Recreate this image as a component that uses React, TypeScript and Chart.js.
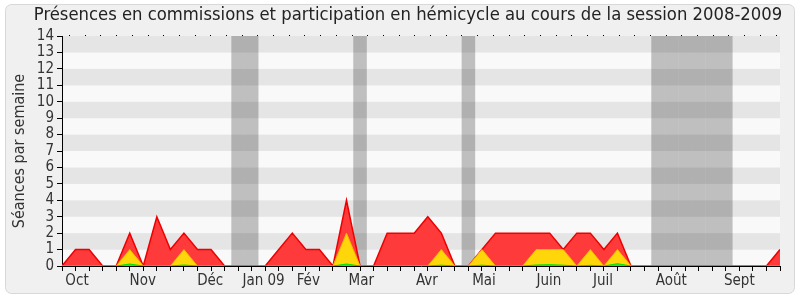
import React, { useEffect, useRef } from 'react';
import { Chart, registerables } from 'chart.js';

Chart.register(...registerables);

const TITLE = 'Présences en commissions et participation en hémicycle au cours de la session 2008-2009';
const Y_TITLE = 'Séances par semaine';

// weekly values, week index 0..53
const totalSeances = [0, 1, 1, 0, 0, 2, 0, 3, 1, 2, 1, 1, 0, 0, 0, 0, 1, 2, 1, 1, 0, 4, 0, 0, 2, 2, 2, 3, 2, 0, 0, 1, 2, 2, 2, 2, 2, 1, 2, 2, 1, 2, 0, 0, 0, 0, 0, 0, 0, 0, 0, 0, 0, 1];
const commissionSeances = [0, 0, 0, 0, 0, 1, 0, 0, 0, 1, 0, 0, 0, 0, 0, 0, 0, 0, 0, 0, 0, 2, 0, 0, 0, 0, 0, 0, 1, 0, 0, 1, 0, 0, 0, 1, 1, 1, 0, 1, 0, 1, 0, 0, 0, 0, 0, 0, 0, 0, 0, 0, 0, 0];
const hemicycleSeances = [0, 0, 0, 0, 0, 0.12, 0, 0, 0, 0.06, 0, 0, 0, 0, 0, 0, 0, 0, 0, 0, 0, 0.12, 0, 0, 0, 0, 0, 0, 0.05, 0, 0, 0.05, 0, 0, 0, 0.06, 0.08, 0.05, 0, 0.04, 0, 0.14, 0, 0, 0, 0, 0, 0, 0, 0, 0, 0, 0, 0];

const monthLabels = ['Oct', 'Nov', 'Déc', 'Jan 09', 'Fév', 'Mar', 'Avr', 'Mai', 'Juin', 'Juil', 'Août', 'Sept'];
const monthPositions = [1.11, 5.96, 10.94, 14.88, 18.18, 22.09, 26.94, 31.15, 35.94, 39.94, 44.97, 50.0];
const vacationWeeks = [13, 14, 22, 30, 44, 45, 46, 47, 48, 49];
const yTicks = [0, 1, 2, 3, 4, 5, 6, 7, 8, 9, 10, 11, 12, 13, 14];

const FONT = "'DejaVu Sans Condensed', 'DejaVu Sans', sans-serif";

const toPoints = (arr: number[]) => arr.map((v, i) => ({ x: i, y: v }));

const backgroundPlugin = {
  id: 'bgPlugin',
  beforeDraw(chart: any) {
    const { ctx, chartArea, scales } = chart;
    const x = scales.x;
    const y = scales.y;
    ctx.save();
    ctx.fillStyle = '#ffffff';
    ctx.fillRect(0, 0, chart.width, chart.height);
    // panel
    ctx.beginPath();
    if (ctx.roundRect) ctx.roundRect(5.5, 4.5, 789, 289, 6);
    else ctx.rect(5.5, 4.5, 789, 289);
    ctx.fillStyle = '#f0f0f0';
    ctx.fill();
    ctx.strokeStyle = '#d8d8d8';
    ctx.lineWidth = 1;
    ctx.stroke();
    // stripes
    for (let k = 0; k < yTicks.length - 1; k++) {
      const top = y.getPixelForValue(yTicks[k + 1]);
      const bot = y.getPixelForValue(yTicks[k]);
      ctx.fillStyle = k % 2 === 1 ? '#e5e5e5' : '#f9f9f9';
      ctx.fillRect(chartArea.left, top, chartArea.right - chartArea.left, bot - top);
    }
    // vacation bands
    ctx.globalCompositeOperation = 'multiply';
    ctx.fillStyle = '#c4c4c4';
    vacationWeeks.forEach((w) => {
      const l = x.getPixelForValue(w - 0.5);
      const r = x.getPixelForValue(w + 0.5);
      ctx.fillRect(l, chartArea.top, r - l, chartArea.bottom - chartArea.top);
    });
    ctx.globalCompositeOperation = 'source-over';
    // dotted top line
    ctx.fillStyle = '#000';
    for (let px = chartArea.left + 7; px < chartArea.right; px += 15.7) {
      ctx.fillRect(Math.round(px), chartArea.top - 1, 1, 1);
    }
    ctx.restore();
  },
  afterDraw(chart: any) {
    const { ctx } = chart;
    ctx.save();
    ctx.font = `18.3px ${FONT}`;
    ctx.fillStyle = '#222';
    ctx.textAlign = 'center';
    ctx.textBaseline = 'alphabetic';
    ctx.fillText(TITLE, 408, 20);
    ctx.restore();
  },
};

export default function App() {
  const ref = useRef<HTMLCanvasElement | null>(null);
  useEffect(() => {
    document.body.style.margin = '0';
    if (!ref.current) return;
    const chart = new Chart(ref.current, {
      type: 'line',
      data: {
        datasets: [
          {
            label: 'Hémicycle',
            data: toPoints(hemicycleSeances),
            borderColor: '#00e000',
            backgroundColor: '#33dd33',
            borderWidth: 1,
            fill: 'origin',
            pointRadius: 0,
            tension: 0,
            order: 0,
          },
          {
            label: 'Commissions',
            data: toPoints(commissionSeances),
            borderColor: '#f2b800',
            backgroundColor: '#ffd60a',
            borderWidth: 1,
            fill: 'origin',
            pointRadius: 0,
            tension: 0,
            order: 1,
          },
          {
            label: 'Total',
            data: toPoints(totalSeances),
            borderColor: '#ee0000',
            backgroundColor: '#ff3a3a',
            borderWidth: 1.5,
            fill: 'origin',
            pointRadius: 0,
            tension: 0,
            order: 2,
          },
        ],
      },
      options: {
        animation: false,
        responsive: false,
        maintainAspectRatio: false,
        layout: { padding: { top: 36, right: 20, bottom: 0, left: 0 } },
        plugins: {
          legend: { display: false },
          title: { display: false },
          tooltip: { enabled: false },
        },
        scales: {
          x: {
            type: 'linear',
            position: 'bottom',
            min: 0,
            max: 53,
            weight: 0,
            afterBuildTicks: (scale: any) => {
              scale.ticks = totalSeances.map((_, i) => ({ value: i }));
            },
            afterFit: (scale: any) => {
              scale.height = 5;
            },
            ticks: { display: false },
            grid: { drawOnChartArea: false, drawTicks: true, tickLength: 5, color: '#000', lineWidth: 1 },
            border: { display: true, color: '#000', width: 1 },
          },
          xm: {
            type: 'linear',
            position: 'bottom',
            min: 0,
            max: 53,
            weight: 1,
            afterBuildTicks: (scale: any) => {
              scale.ticks = monthPositions.map((v) => ({ value: v }));
            },
            afterFit: (scale: any) => {
              scale.height = 29;
            },
            ticks: {
              autoSkip: false,
              maxRotation: 0,
              padding: 1,
              color: '#333',
              font: { family: FONT, size: 15 },
              callback: (value: any) => {
                const idx = monthPositions.indexOf(Number(value));
                return idx >= 0 ? monthLabels[idx] : '';
              },
            },
            grid: { display: false, drawTicks: false },
            border: { display: false },
          },
          y: {
            type: 'linear',
            min: 0,
            max: 14,
            afterBuildTicks: (scale: any) => {
              scale.ticks = yTicks.map((v) => ({ value: v }));
            },
            afterFit: (scale: any) => {
              scale.width = 62;
            },
            ticks: {
              autoSkip: false,
              color: '#333',
              padding: 3,
              font: { family: FONT, size: 15, lineHeight: 1 },
            },
            grid: { drawOnChartArea: false, drawTicks: true, tickLength: 5, color: '#000' },
            border: { display: true, color: '#000', width: 1 },
            title: {
              display: true,
              text: Y_TITLE,
              color: '#333',
              font: { family: FONT, size: 16 },
              padding: { top: 10, bottom: 0 },
            },
          },
        },
      },
      plugins: [backgroundPlugin],
    } as any);
    return () => chart.destroy();
  }, []);
  return <canvas ref={ref} width={800} height={300} style={{ display: 'block' }} />;
}
